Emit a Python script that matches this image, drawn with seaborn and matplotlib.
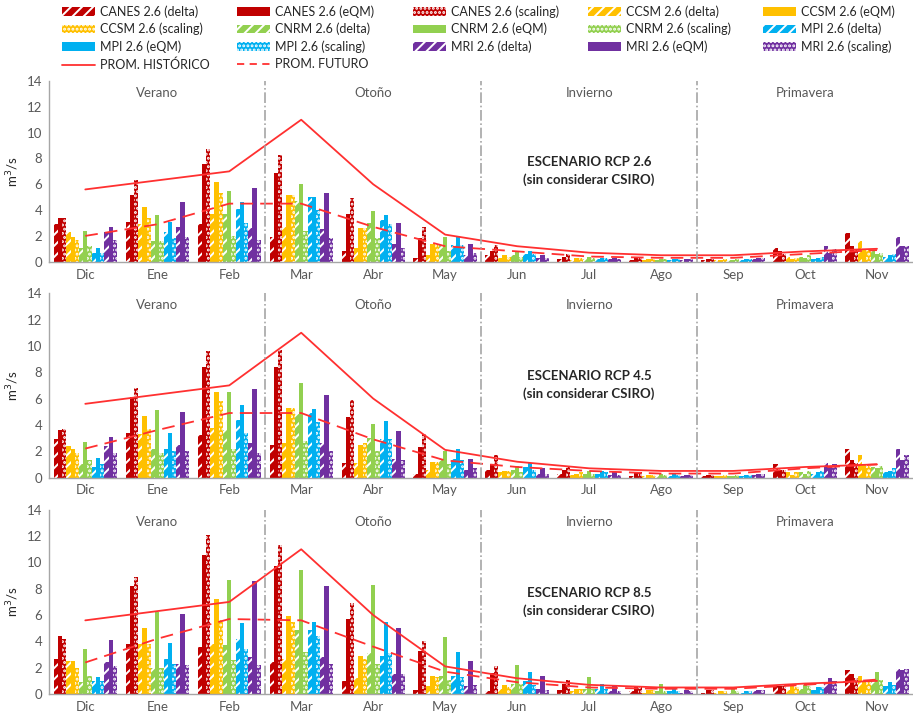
import numpy as np
import pandas as pd
import matplotlib
matplotlib.use("Agg")
import matplotlib.pyplot as plt
from matplotlib import font_manager
from matplotlib.patches import Patch
from matplotlib.lines import Line2D
import seaborn as sns

meses = ["Dic", "Ene", "Feb", "Mar", "Abr", "May", "Jun", "Jul", "Ago", "Sep", "Oct", "Nov"]
estaciones = ["Verano", "Otoño", "Invierno", "Primavera"]
modelos = ["CANES", "CCSM", "CNRM", "MPI", "MRI"]
metodos = ["delta", "eQM", "scaling"]
colores = ["#C00000", "#FFC000", "#92D050", "#00B0F0", "#7030A0"]

# caudal medio mensual (m3/s), filas: delta, eQM, scaling
# --- RCP 2.6 ---
rcp26_canes = [[2.9, 3.1, 2.9, 1.9, 0.8, 0.3, 0.5, 0.2, 0.1, 0.1, 1.1, 2.2],
               [3.4, 5.2, 7.6, 6.9, 3.7, 1.8, 0.8, 0.4, 0.3, 0.2, 0.8, 1.2],
               [3.4, 6.3, 8.7, 8.3, 4.9, 2.7, 1.3, 0.6, 0.3, 0.2, 0.6, 1.0]]
rcp26_ccsm = [[2.3, 2.9, 3.7, 2.7, 1.1, 0.5, 0.3, 0.1, 0.1, 0.1, 0.4, 1.6],
              [1.9, 4.2, 6.2, 5.2, 2.6, 1.4, 0.5, 0.3, 0.2, 0.1, 0.2, 1.0],
              [1.7, 3.4, 5.3, 5.2, 2.6, 1.3, 0.4, 0.3, 0.2, 0.2, 0.3, 0.9]]
rcp26_cnrm = [[1.1, 1.6, 3.7, 4.7, 3.0, 1.3, 0.5, 0.2, 0.1, 0.1, 0.4, 0.8],
              [2.4, 3.6, 5.5, 6.0, 3.9, 1.9, 0.8, 0.4, 0.2, 0.1, 0.3, 0.6],
              [1.2, 1.6, 2.0, 2.4, 1.8, 0.8, 0.4, 0.3, 0.2, 0.2, 0.5, 0.7]]
rcp26_mpi = [[0.7, 2.3, 4.1, 5.0, 3.2, 1.3, 0.6, 0.2, 0.1, 0.1, 0.2, 0.4],
             [1.1, 3.1, 4.6, 5.0, 3.6, 2.0, 0.8, 0.3, 0.2, 0.2, 0.3, 0.5],
             [0.7, 1.8, 3.0, 4.0, 2.9, 1.3, 0.6, 0.3, 0.2, 0.2, 0.4, 0.6]]
rcp26_mri = [[2.3, 2.7, 2.6, 2.5, 1.4, 0.5, 0.3, 0.2, 0.1, 0.2, 1.2, 1.9],
             [2.7, 4.6, 5.7, 5.3, 3.0, 1.4, 0.5, 0.3, 0.2, 0.3, 0.7, 1.2],
             [1.7, 1.9, 1.7, 1.8, 1.1, 0.7, 0.3, 0.2, 0.2, 0.3, 1.0, 1.2]]

# --- RCP 4.5 ---
rcp45_canes = [[2.9, 3.4, 3.2, 2.5, 1.1, 0.3, 0.6, 0.3, 0.1, 0.1, 1.0, 2.2],
               [3.6, 6.1, 8.4, 8.4, 4.6, 2.3, 1.0, 0.6, 0.4, 0.2, 0.6, 1.3],
               [3.7, 6.8, 9.6, 9.7, 5.9, 3.3, 1.7, 0.9, 0.4, 0.2, 0.6, 1.1]]
rcp45_ccsm = [[2.4, 3.3, 3.8, 2.6, 1.1, 0.6, 0.4, 0.2, 0.1, 0.1, 0.4, 1.7],
              [2.2, 4.7, 6.5, 5.3, 2.5, 1.2, 0.5, 0.3, 0.2, 0.1, 0.2, 1.0],
              [1.9, 3.7, 5.8, 5.3, 2.6, 1.2, 0.5, 0.4, 0.2, 0.2, 0.4, 0.9]]
rcp45_cnrm = [[1.0, 2.2, 3.6, 4.8, 3.0, 1.4, 0.6, 0.3, 0.1, 0.1, 0.4, 0.8],
              [2.7, 5.1, 6.5, 7.2, 4.1, 2.0, 0.9, 0.5, 0.3, 0.1, 0.3, 0.7],
              [1.3, 1.9, 2.2, 2.8, 2.0, 1.0, 0.4, 0.3, 0.2, 0.2, 0.5, 0.9]]
rcp45_mpi = [[0.8, 2.2, 4.4, 4.9, 2.9, 1.4, 0.8, 0.3, 0.1, 0.1, 0.3, 0.4],
             [1.5, 3.4, 5.5, 5.2, 4.3, 2.2, 1.1, 0.5, 0.3, 0.2, 0.4, 0.5],
             [1.0, 2.0, 3.4, 4.2, 2.9, 1.3, 0.6, 0.4, 0.2, 0.2, 0.5, 0.7]]
rcp45_mri = [[2.4, 2.5, 2.6, 2.6, 1.4, 0.6, 0.3, 0.2, 0.1, 0.2, 1.1, 2.2],
             [3.1, 5.0, 6.7, 6.3, 3.5, 1.4, 0.7, 0.4, 0.2, 0.3, 0.8, 1.3],
             [1.9, 2.0, 1.9, 2.0, 1.3, 0.7, 0.3, 0.2, 0.2, 0.3, 1.0, 1.7]]

# --- RCP 8.5 ---
rcp85_canes = [[2.7, 3.8, 3.6, 2.4, 1.0, 0.3, 0.2, 0.3, 0.2, 0.1, 0.6, 1.8],
               [4.4, 8.2, 10.6, 9.7, 5.7, 3.3, 1.6, 0.8, 0.5, 0.3, 0.6, 1.5],
               [4.2, 8.9, 12.1, 11.3, 6.9, 4.0, 2.1, 1.1, 0.6, 0.3, 0.6, 1.2]]
rcp85_ccsm = [[2.5, 3.8, 3.8, 2.7, 1.2, 0.6, 0.4, 0.2, 0.1, 0.1, 0.3, 1.4],
              [2.5, 5.0, 7.2, 5.9, 2.9, 1.4, 0.7, 0.4, 0.3, 0.2, 0.6, 1.0],
              [2.0, 3.8, 5.6, 5.5, 2.7, 1.3, 0.5, 0.4, 0.3, 0.2, 0.5, 0.9]]
rcp85_cnrm = [[0.9, 2.0, 3.7, 4.9, 3.1, 1.4, 0.8, 0.4, 0.2, 0.1, 0.4, 0.9],
              [3.4, 6.2, 8.7, 9.4, 8.3, 4.3, 2.2, 1.3, 0.8, 0.4, 0.7, 1.7],
              [1.4, 2.0, 2.6, 3.2, 2.3, 1.1, 0.8, 0.4, 0.2, 0.2, 0.6, 1.1]]
rcp85_mpi = [[1.0, 2.7, 4.2, 4.9, 2.9, 1.4, 1.0, 0.4, 0.2, 0.1, 0.3, 0.6],
             [1.3, 3.9, 5.4, 5.5, 5.5, 3.2, 1.7, 0.8, 0.4, 0.2, 0.5, 0.9],
             [1.0, 2.3, 3.4, 4.4, 3.1, 1.3, 0.7, 0.4, 0.2, 0.2, 0.5, 0.7]]
rcp85_mri = [[2.4, 2.3, 2.8, 2.8, 1.5, 0.6, 0.4, 0.2, 0.1, 0.2, 0.8, 1.9],
             [4.1, 6.1, 8.6, 8.2, 5.0, 2.5, 1.4, 0.7, 0.3, 0.3, 1.2, 1.8],
             [2.1, 2.2, 2.2, 2.3, 1.5, 0.7, 0.3, 0.2, 0.2, 0.3, 1.0, 1.9]]

prom_historico = [5.6, 6.3, 7.0, 11.0, 6.0, 2.1, 1.2, 0.7, 0.5, 0.5, 0.8, 1.0]
futuro_26 = [2.0, 2.9, 4.5, 4.5, 2.7, 1.2, 0.8, 0.4, 0.3, 0.3, 0.6, 0.9]
futuro_45 = [2.2, 3.6, 4.9, 4.9, 2.9, 1.3, 0.8, 0.5, 0.3, 0.3, 0.7, 1.0]
futuro_85 = [2.4, 4.2, 5.7, 5.6, 3.6, 1.7, 0.9, 0.5, 0.4, 0.4, 0.7, 1.1]

escenarios = [
    ("2.6", [rcp26_canes, rcp26_ccsm, rcp26_cnrm, rcp26_mpi, rcp26_mri], futuro_26),
    ("4.5", [rcp45_canes, rcp45_ccsm, rcp45_cnrm, rcp45_mpi, rcp45_mri], futuro_45),
    ("8.5", [rcp85_canes, rcp85_ccsm, rcp85_cnrm, rcp85_mpi, rcp85_mri], futuro_85),
]

sns.set_style("white")
nombres = {f.name for f in font_manager.fontManager.ttflist}
fuente = "Lato" if "Lato" in nombres else "DejaVu Sans"
plt.rcParams["font.family"] = [fuente, "DejaVu Sans"]
plt.rcParams["hatch.linewidth"] = 1.4

tramas = {"delta": "///", "eQM": "", "scaling": "...."}
gris = "#595959"
rojo = "#FF3030"

series = [f"{mod} 2.6 ({met})" for mod in modelos for met in metodos]
paleta = [c for c in colores for _ in metodos]

fig = plt.figure(figsize=(9.13, 7.17), dpi=100)
posiciones = [(0.635, 0.252), (0.334, 0.257), (0.032, 0.257)]

for (rcp, datos, futuro), (bottom, height) in zip(escenarios, posiciones):
    filas = []
    for mod, bloque in zip(modelos, datos):
        for met, valores in zip(metodos, bloque):
            for mes, v in zip(meses, valores):
                filas.append({"mes": mes, "serie": f"{mod} 2.6 ({met})", "valor": v})
    df = pd.DataFrame(filas)

    ax = fig.add_axes([0.054, bottom, 0.946, height])
    sns.barplot(data=df, x="mes", y="valor", hue="serie", order=meses, hue_order=series,
                palette=paleta, saturation=1, errorbar=None, width=0.88, dodge=True,
                legend=False, ax=ax)
    for k, cont in enumerate(ax.containers):
        met = metodos[k % 3]
        for barra in cont:
            barra.set_hatch(tramas[met])
            barra.set_edgecolor("white")
            barra.set_linewidth(0)

    x = np.arange(len(meses))
    sns.lineplot(x=x, y=prom_historico, ax=ax, color=rojo, lw=1.3)
    sns.lineplot(x=x, y=futuro, ax=ax, color=rojo, lw=1.3, linestyle=(0, (7, 4)))

    for xv in [2.5, 5.5, 8.5]:
        ax.axvline(xv, ymin=0, ymax=1, color="#A6A6A6", lw=1.2, linestyle="-.")
    for i, est in enumerate(estaciones):
        ax.text(1 + 3 * i, 13.1, est, ha="center", va="center", fontsize=9.5, color=gris)
    ax.text(7, 7.0, f"ESCENARIO RCP {rcp}\n(sin considerar CSIRO)", ha="center", va="center",
            fontsize=9.5, fontweight="bold", color="#262626", linespacing=1.5)

    ax.set_xlim(-0.5, 11.5)
    ax.set_ylim(0, 14)
    ax.set_yticks(range(0, 15, 2))
    ax.set_xlabel("")
    ax.set_ylabel("m$^3$/s", fontsize=9.5, color="#262626", labelpad=4)
    ax.tick_params(axis="both", length=0, labelsize=9.5, labelcolor=gris, pad=5)
    for lado in ["top", "right"]:
        ax.spines[lado].set_visible(False)
    for lado in ["left", "bottom"]:
        ax.spines[lado].set_color("#A6A6A6")
        ax.spines[lado].set_linewidth(1.0)

# leyenda en 5 columnas, leida por filas
handles = {}
for mod, col in zip(modelos, colores):
    for met in metodos:
        handles[f"{mod} 2.6 ({met})"] = Patch(facecolor=col, hatch=tramas[met], edgecolor="white", linewidth=0)
handles["PROM. HISTÓRICO"] = Line2D([], [], color=rojo, lw=1.3)
handles["PROM. FUTURO"] = Line2D([], [], color=rojo, lw=1.3, linestyle=(0, (4, 3)))
orden = list(handles.keys())
col_x = [62, 237, 413, 588, 763]
for c, xpix in enumerate(col_x):
    etiquetas = orden[c::5]
    fig.legend([handles[k] for k in etiquetas], etiquetas, loc="upper left",
               bbox_to_anchor=(xpix / 913, 0.993), frameon=False, fontsize=9,
               handlelength=2.6, handleheight=0.7, handletextpad=0.45,
               labelspacing=0.42, borderpad=0, borderaxespad=0)

fig.savefig("out.png", dpi=100)
